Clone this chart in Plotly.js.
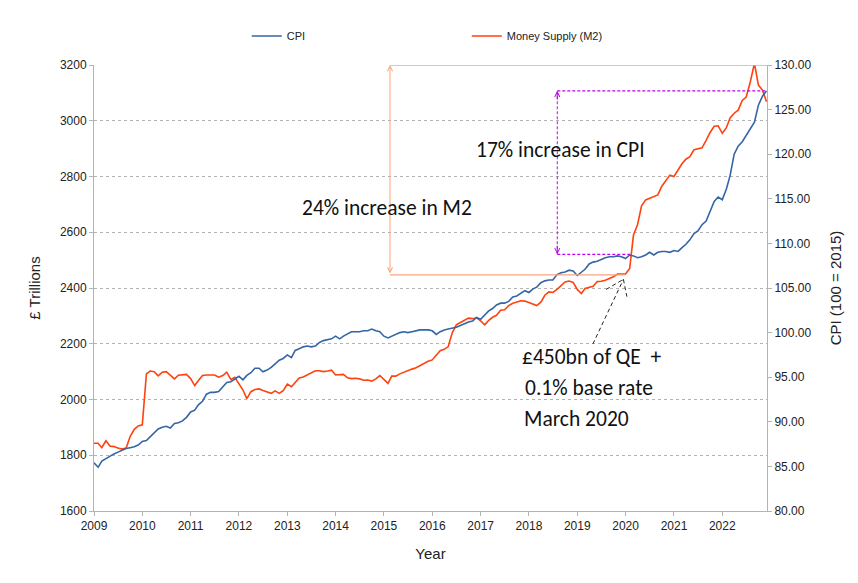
<!DOCTYPE html>
<html><head><meta charset="utf-8">
<script src="https://cdn.plot.ly/plotly-3.0.1.min.js"></script>
<style>html,body{margin:0;padding:0;background:#fff}#chart{width:858px;height:583px}</style>
</head><body><div id="chart"></div>
<script>
const startYear = 2009;
const cpi = [
85.4, 84.9, 85.6, 85.9, 86.1, 86.4, 86.6, 86.8, 87.0, 87.1, 87.2, 87.4,
87.8, 87.9, 88.3, 88.8, 89.2, 89.4, 89.5, 89.3, 89.8, 89.9, 90.1, 90.5,
91.1, 91.3, 91.9, 92.3, 93.1, 93.3, 93.3, 93.4, 93.9, 94.4, 94.5, 94.8,
95.1, 94.7, 95.2, 95.5, 96.0, 96.0, 95.6, 95.8, 96.1, 96.5, 96.9, 97.1,
97.5, 97.2, 98.0, 98.2, 98.4, 98.5, 98.4, 98.5, 98.9, 99.1, 99.2, 99.3,
99.6, 99.3, 99.6, 99.9, 100.1, 100.1, 100.1, 100.2, 100.2, 100.4, 100.2, 100.1,
99.6, 99.4, 99.6, 99.8, 100.0, 100.1, 100.0, 100.1, 100.2, 100.3, 100.3, 100.3,
100.2, 99.8, 100.1, 100.3, 100.4, 100.5, 100.6, 100.8, 101.0, 101.2, 101.3, 101.7,
101.5, 102.0, 102.4, 102.7, 103.1, 103.3, 103.3, 103.5, 104.0, 104.1, 104.4, 104.7,
104.5, 104.9, 105.1, 105.6, 105.8, 105.9, 105.9, 106.5, 106.7, 106.8, 107.0, 106.9,
106.4, 106.8, 107.1, 107.7, 107.9, 108.0, 108.2, 108.4, 108.5, 108.5, 108.6, 108.5,
108.3, 108.7, 108.6, 108.4, 108.5, 108.7, 109.0, 108.7, 109.0, 109.1, 109.1, 109.0,
109.2, 109.1, 109.5, 109.9, 110.4, 111.1, 111.4, 112.1, 112.5, 113.6, 114.7, 115.2,
114.9, 116.1, 117.6, 120.0, 120.9, 121.4, 122.1, 122.8, 123.6, 125.5, 126.5, 127.1
];
const m2 = [
1843, 1843, 1827, 1852, 1833, 1831, 1826, 1822, 1826, 1867, 1893, 1905,
1909, 2092, 2102, 2100, 2085, 2098, 2100, 2088, 2074, 2087, 2088, 2090,
2075, 2050, 2068, 2086, 2088, 2088, 2088, 2080, 2086, 2098, 2072, 2080,
2055, 2034, 2003, 2028, 2036, 2038, 2032, 2027, 2022, 2031, 2022, 2032,
2055, 2046, 2062, 2077, 2081, 2088, 2096, 2103, 2103, 2100, 2102, 2105,
2088, 2090, 2090, 2078, 2075, 2076, 2074, 2069, 2070, 2066, 2074, 2086,
2073, 2058, 2084, 2084, 2092, 2098, 2105, 2109, 2114, 2122, 2131, 2137,
2142, 2160, 2175, 2180, 2190, 2240, 2268, 2276, 2284, 2292, 2290, 2293,
2282, 2268, 2283, 2295, 2302, 2320, 2322, 2337, 2345, 2350, 2354, 2353,
2347, 2340, 2337, 2349, 2374, 2386, 2384, 2395, 2409, 2422, 2425, 2420,
2395, 2380, 2398, 2403, 2406, 2423, 2424, 2428, 2433, 2440, 2450, 2451,
2450, 2470, 2590, 2628, 2695, 2716, 2722, 2730, 2734, 2765, 2787, 2805,
2800, 2825, 2845, 2862, 2871, 2896, 2899, 2903, 2930, 2958, 2980, 2982,
2955, 2975, 3010, 3027, 3038, 3073, 3085, 3140, 3206, 3128, 3110, 3068
];
const months = cpi.map((_, i) => {
  const y = startYear + Math.floor(i / 12);
  const m = (i % 12) + 1;
  return y + '-' + String(m).padStart(2, '0') + '-01';
});
const yearTicks = ['2009','2010','2011','2012','2013','2014','2015','2016','2017','2018','2019','2020','2021','2022'];
const xEnd = '2022-12-05';

// annotation reference values
const m2ArrowDate = '2015-02-16', m2Low = 2447, m2High = 3200, m2LowEnd = '2019-12-28';
const cpiArrowDate = '2018-08-03', cpiLow = 108.78, cpiHigh = 127.1, cpiLowEnd = '2020-02-05';
const qeTip = ['2019-12-16', 2431], qeTail = ['2019-04-29', 2199];
const qeWingL = ['2019-08-08', 2395], qeWingR = ['2020-01-11', 2369];

const orange = '#f7a57c', magenta = '#c000f0';
const bigFont = {family: 'Carlito, Lato, "Open Sans", sans-serif', size: 21.5, color: '#111'};
const tickFont = {family: '"Liberation Sans Narrow", "Liberation Sans", Arial, sans-serif', size: 12, color: '#222'};

const traces = [
  {x: months, y: cpi, name: 'CPI', type: 'scatter', mode: 'lines', yaxis: 'y2',
   line: {color: '#3465a4', width: 1.6}},
  {x: months, y: m2, name: 'Money Supply (M2)', type: 'scatter', mode: 'lines', yaxis: 'y',
   line: {color: '#ff420e', width: 1.6}}
];

const shapes = [
  {type: 'line', xref: 'x', yref: 'y', x0: m2ArrowDate, x1: xEnd, y0: m2High, y1: m2High, line: {color: orange, width: 1.6}},
  {type: 'line', xref: 'x', yref: 'y', x0: m2ArrowDate, x1: m2LowEnd, y0: m2Low, y1: m2Low, line: {color: orange, width: 1.3}},
  {type: 'line', xref: 'x', yref: 'y2', x0: cpiArrowDate, x1: xEnd, y0: cpiHigh, y1: cpiHigh, line: {color: magenta, width: 1.3, dash: '3px,2px'}},
  {type: 'line', xref: 'x', yref: 'y2', x0: cpiArrowDate, x1: cpiLowEnd, y0: cpiLow, y1: cpiLow, line: {color: magenta, width: 1.3, dash: '3px,2px'}},
  {type: 'line', xref: 'x', yref: 'y2', x0: cpiArrowDate, x1: cpiArrowDate, y0: cpiLow, y1: cpiHigh, line: {color: magenta, width: 1, dash: '3px,2px'}},
  {type: 'line', xref: 'x', yref: 'y', x0: qeTail[0], y0: qeTail[1], x1: qeTip[0], y1: qeTip[1], line: {color: '#222', width: 1, dash: '4px,3px'}},
  {type: 'line', xref: 'x', yref: 'y', x0: qeWingL[0], y0: qeWingL[1], x1: qeTip[0], y1: qeTip[1], line: {color: '#222', width: 1, dash: '4px,3px'}},
  {type: 'line', xref: 'x', yref: 'y', x0: qeTip[0], y0: qeTip[1], x1: qeWingR[0], y1: qeWingR[1], line: {color: '#222', width: 1, dash: '4px,3px'}}
];

const annotations = [
  {xref: 'x', yref: 'y', x: m2ArrowDate, y: m2High, axref: 'x', ayref: 'y', ax: m2ArrowDate, ay: m2Low,
   showarrow: true, arrowside: 'end+start', arrowhead: 5, arrowsize: 1, arrowwidth: 1, arrowcolor: orange, text: ''},
  {xref: 'x', yref: 'y2', x: cpiArrowDate, y: cpiHigh, ax: 0, ay: 10,
   showarrow: true, arrowhead: 5, arrowsize: 1, arrowwidth: 1, arrowcolor: magenta, text: ''},
  {xref: 'x', yref: 'y2', x: cpiArrowDate, y: cpiLow, ax: 0, ay: -10,
   showarrow: true, arrowhead: 5, arrowsize: 1, arrowwidth: 1, arrowcolor: magenta, text: ''},
  {xref: 'x', yref: 'y', x: '2015-01-24', y: 2687, text: '24% increase in M2', showarrow: false, font: bigFont, xanchor: 'center', yanchor: 'middle'},
  {xref: 'x', yref: 'y', x: '2018-08-25', y: 2895, text: '17% increase in CPI', showarrow: false, font: bigFont, xanchor: 'center', yanchor: 'middle'},
  {xref: 'x', yref: 'y', x: '2017-10-27', y: 2153, text: '£450bn of QE \u00a0+', showarrow: false, font: bigFont, xanchor: 'left', yanchor: 'middle'},
  {xref: 'x', yref: 'y', x: '2017-11-18', y: 2040, text: '0.1% base rate', showarrow: false, font: bigFont, xanchor: 'left', yanchor: 'middle'},
  {xref: 'x', yref: 'y', x: '2017-11-11', y: 1930, text: 'March 2020', showarrow: false, font: bigFont, xanchor: 'left', yanchor: 'middle'}
];

const axisCommon = {
  showline: true, linecolor: '#b3b3b3', linewidth: 1, ticks: 'outside', ticklen: 4, tickcolor: '#b3b3b3',
  tickfont: tickFont, zeroline: false
};

const layout = {
  width: 858, height: 583,
  margin: {l: 94, r: 91, t: 65, b: 72},
  paper_bgcolor: '#ffffff', plot_bgcolor: '#ffffff',
  showlegend: true,
  legend: {orientation: 'h', x: 0.227, xanchor: 'left', y: 1.065, yanchor: 'middle',
    font: {family: '"Liberation Sans", Arial, sans-serif', size: 11, color: '#222'},
    entrywidth: 175, entrywidthmode: 'pixels', bgcolor: 'rgba(0,0,0,0)'},
  xaxis: Object.assign({}, axisCommon, {
    type: 'date', range: [months[0], xEnd], tickvals: yearTicks.map(y => y + '-01-01'), ticktext: yearTicks,
    showgrid: false,
    title: {text: 'Year', font: {family: '"Liberation Sans", Arial, sans-serif', size: 15, color: '#222'}, standoff: 16}
  }),
  yaxis: Object.assign({}, axisCommon, {
    range: [1600, 3200], dtick: 200, showgrid: true, gridcolor: '#b3b3b3', griddash: 'dot', gridwidth: 1,
    title: {text: '£ Trillions', font: {family: '"Liberation Sans", Arial, sans-serif', size: 15, color: '#222'}, standoff: 15}
  }),
  yaxis2: Object.assign({}, axisCommon, {
    overlaying: 'y', side: 'right', range: [80, 130], dtick: 5, tickformat: '.2f', showgrid: false,
    title: {text: 'CPI (100 = 2015)', font: {family: '"Liberation Sans", Arial, sans-serif', size: 15, color: '#222'}, standoff: 20}
  }),
  shapes: shapes,
  annotations: annotations
};

Plotly.newPlot('chart', traces, layout, {displayModeBar: false, staticPlot: true});
</script>
</body></html>
